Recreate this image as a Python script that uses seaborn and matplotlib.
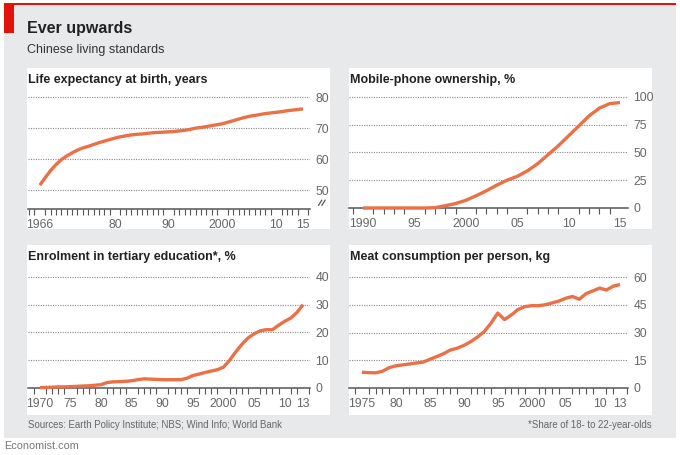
import numpy as np
import pandas as pd
import matplotlib
matplotlib.use("Agg")
import matplotlib.pyplot as plt
from matplotlib.patches import Rectangle
from matplotlib.ticker import FixedLocator
import seaborn as sns

# ── Data ──────────────────────────────────────────────────────────────────────
life_years = list(range(1966, 2016))
life_values = [51.6, 54.0, 56.3, 58.2, 59.8, 61.0, 62.0, 62.9, 63.6, 64.1,
               64.7, 65.3, 65.8, 66.3, 66.8, 67.2, 67.5, 67.8, 68.0, 68.1,
               68.3, 68.5, 68.6, 68.7, 68.8, 68.9, 69.1, 69.3, 69.6, 70.0,
               70.2, 70.5, 70.8, 71.1, 71.4, 71.9, 72.4, 72.9, 73.4, 73.8,
               74.1, 74.4, 74.7, 74.9, 75.1, 75.3, 75.6, 75.8, 76.0, 76.2]

phone_years = list(range(1990, 2016))
phone_values = [0.0, 0.0, 0.0, 0.0, 0.0, 0.0, 0.0, 0.3, 2.0, 4.0,
                6.9, 11.0, 15.5, 20.5, 25.0, 28.5, 33.5, 40.0, 48.0, 56.0,
                65.0, 74.0, 83.0, 90.0, 94.0, 95.0]

edu_years = list(range(1970, 2014))
edu_values = [0.1, 0.2, 0.3, 0.4, 0.4, 0.5, 0.6, 0.7, 0.8, 1.0,
              1.2, 2.0, 2.2, 2.3, 2.4, 2.6, 3.0, 3.3, 3.2, 3.1,
              3.0, 3.0, 3.0, 3.0, 3.5, 4.5, 5.0, 5.6, 6.1, 6.6,
              7.5, 10.0, 13.0, 15.7, 18.0, 19.5, 20.6, 21.0, 21.0, 22.6,
              24.0, 25.2, 27.2, 30.0]

meat_years = list(range(1975, 2014))
meat_values = [8.5, 8.3, 8.2, 9.0, 11.0, 12.0, 12.5, 13.0, 13.5, 14.0,
               15.5, 17.0, 18.5, 20.5, 21.5, 23.0, 25.0, 27.5, 30.5, 35.0,
               40.5, 37.0, 39.5, 42.5, 44.0, 44.5, 44.5, 45.0, 46.0, 47.0,
               48.5, 49.5, 48.0, 51.0, 52.5, 54.0, 53.0, 55.0, 56.0]

# ── Style ──────────────────────────────────────────────────────────────────────
W, H = 680, 455
BG = "#e8e9ea"
RED = "#e3120b"
LINE = "#eb7045"
TXT = "#222222"
GREY = "#555555"
LABEL = "#666666"

sns.set_style("white")
plt.rcParams["font.family"] = ["Liberation Sans", "DejaVu Sans"]


def rect(x0, y0, x1, y1):
    return [x0 / W, 1 - y1 / H, (x1 - x0) / W, (y1 - y0) / H]


def box(fig, x0, y0, x1, y1, color):
    fig.patches.append(Rectangle((x0 / W, 1 - y1 / H), (x1 - x0) / W, (y1 - y0) / H,
                                 transform=fig.transFigure, facecolor=color,
                                 edgecolor="none", zorder=-2))


def panel(fig, pos, years, values, xlim, ylim, yticks, xticks, xlabels, title, tbox):
    x0, y0, x1, y1 = tbox
    box(fig, x0, y0, x1, y1, "white")
    fig.text((x0 + 1) / W, 1 - (y0 + 6) / H, title, fontsize=9, fontweight="bold",
             color=TXT, va="top", ha="left")
    ax = fig.add_axes(rect(*pos))
    ax.patch.set_alpha(0)
    df = pd.DataFrame({"year": years, "value": values})
    sns.lineplot(data=df, x="year", y="value", ax=ax, color=LINE, lw=2.4,
                 solid_capstyle="butt", clip_on=False, zorder=5)
    ax.set_xlim(*xlim)
    ax.set_ylim(*ylim)
    ax.set_xlabel("")
    ax.set_ylabel("")
    for s in ["top", "right", "left"]:
        ax.spines[s].set_visible(False)
    ax.spines["bottom"].set_color(GREY)
    ax.spines["bottom"].set_linewidth(1.1)
    ax.yaxis.tick_right()
    ax.yaxis.set_major_locator(FixedLocator(yticks))
    ax.tick_params(axis="y", length=0, pad=4, labelsize=8.8, labelcolor=LABEL)
    for yv in yticks:
        if yv > ylim[0]:
            ax.axhline(yv, color="#888888", lw=0.8, ls=(0, (1, 1.2)), zorder=1)
    ax.xaxis.set_major_locator(FixedLocator(xticks))
    ax.set_xticklabels(xlabels)
    ax.xaxis.set_minor_locator(FixedLocator(list(range(int(np.ceil(xlim[0])), int(xlim[1]) + 1))))
    ax.tick_params(axis="x", which="major", direction="out", length=4.5, width=0.9,
                   color=GREY, pad=2.5, labelsize=8.8, labelcolor=LABEL)
    ax.tick_params(axis="x", which="minor", direction="out", length=4, width=0.8,
                   color=GREY, bottom=True)
    ax.grid(False)
    return ax


fig = plt.figure(figsize=(W / 100, H / 100), dpi=100)
fig.patch.set_facecolor("white")

# background panel, red rule and tag
box(fig, 4, 5, 676, 438, BG)
box(fig, 4, 3, 676, 5, RED)
box(fig, 4, 5, 14, 33, RED)

fig.text(27 / W, 1 - 29 / H, "Ever upwards", fontsize=11.5, fontweight="bold",
         color=TXT, va="center", ha="left")
fig.text(27 / W, 1 - 50 / H, "Chinese living standards", fontsize=9,
         color="#333333", va="center", ha="left")

# Life expectancy
ax1 = panel(fig, (28, 90, 310, 209), life_years, life_values,
            (1963.8, 2016.3), (43.9, 82.3), [50, 60, 70, 80],
            [1966, 1980, 1990, 2000, 2010, 2015], ["1966", "80", "90", "2000", "10", "15"],
            "Life expectancy at birth, years", (27, 68, 330, 229))
# axis-break mark
for dx in (0.0, 0.012):
    ax1.plot([1.03 + dx, 1.042 + dx], [0.03, 0.075], transform=ax1.transAxes,
             color=GREY, lw=0.9, clip_on=False)

# Mobile phones
panel(fig, (349, 90, 628, 208), phone_years, phone_values,
      (1988.64, 2015.78), (0, 106.3), [0, 25, 50, 75, 100],
      [1990, 1995, 2000, 2005, 2010, 2015], ["1990", "95", "2000", "05", "10", "15"],
      "Mobile-phone ownership, %", (349, 68, 652, 229))

# Tertiary education
panel(fig, (28, 270, 310, 388), edu_years, edu_values,
      (1968.04, 2014.14), (0, 42.5), [0, 10, 20, 30, 40],
      [1970, 1975, 1980, 1985, 1990, 1995, 2000, 2005, 2010, 2013],
      ["1970", "75", "80", "85", "90", "95", "2000", "05", "10", "13"],
      "Enrolment in tertiary education*, %", (27, 245, 330, 415))

# Meat consumption
panel(fig, (349, 270, 628, 388), meat_years, meat_values,
      (1973.09, 2014.18), (0, 63.8), [0, 15, 30, 45, 60],
      [1975, 1980, 1985, 1990, 1995, 2000, 2005, 2010, 2013],
      ["1975", "80", "85", "90", "95", "2000", "05", "10", "13"],
      "Meat consumption per person, kg", (349, 245, 652, 415))

fig.text(28 / W, 1 - 425 / H, "Sources: Earth Policy Institute; NBS; Wind Info; World Bank",
         fontsize=6.9, color=LABEL, va="center", ha="left")
fig.text(652 / W, 1 - 425 / H, "*Share of 18- to 22-year-olds",
         fontsize=6.9, color=LABEL, va="center", ha="right")
fig.text(4 / W, 1 - 446 / H, "Economist.com", fontsize=7.8, color="#777777",
         va="center", ha="left")

fig.savefig("out.png", dpi=100, facecolor=fig.get_facecolor())
